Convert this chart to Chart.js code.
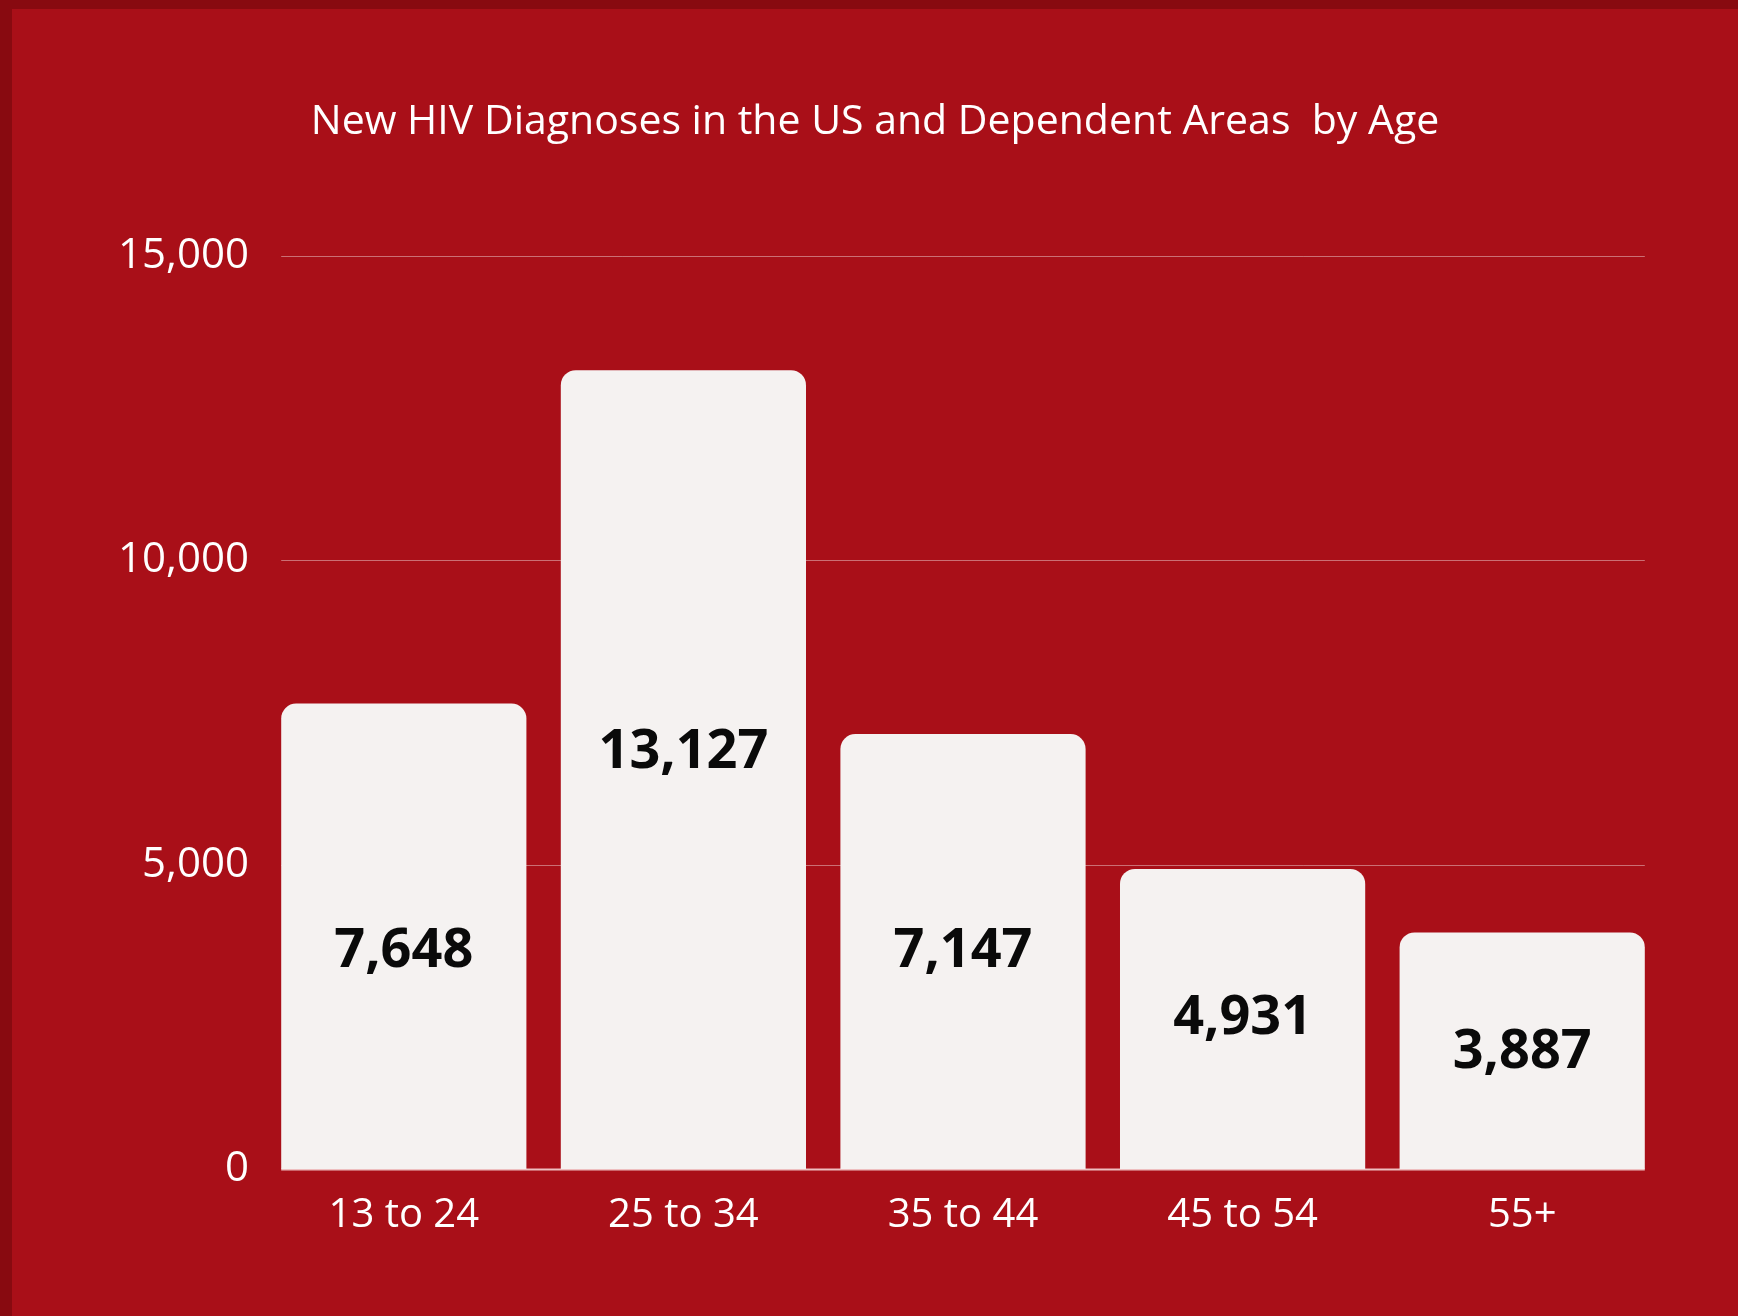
<!DOCTYPE html>
<html>
<head>
<meta charset="utf-8">
<script src="https://cdn.jsdelivr.net/npm/chart.js@4"></script>
<style>
  html, body { margin: 0; padding: 0; background: #a90f18; }
  #frame {
    position: absolute; left: 0; top: 0;
    width: 1726px; height: 1307px;
    border-top: 9px solid #880a10;
    border-left: 12px solid #880a10;
  }
  #graphic { position: absolute; left: 0; top: 0; }
</style>
</head>
<body>
<div id="frame"></div>
<canvas id="graphic" width="1738" height="1316"></canvas>
<script>
const ctx = document.getElementById('graphic');

const categorias = ['13 to 24', '25 to 34', '35 to 44', '45 to 54', '55+'];
const diagnosticos = [7648, 13127, 7147, 4931, 3887];
const ticksY = [0, 5000, 10000, 15000];

const fonte = '"Open Sans", "Liberation Sans", sans-serif';
const fmt = v => v.toLocaleString('en-US');

// grid lines only across the bars, like the original
const linhasGrade = {
    id: 'linhasGrade',
    beforeDatasetsDraw(chart) {
        const meta = chart.getDatasetMeta(0);
        const primeiro = meta.data[0];
        const ultimo = meta.data[meta.data.length - 1];
        const x0 = primeiro.x - primeiro.width / 2;
        const x1 = ultimo.x + ultimo.width / 2;
        const c = chart.ctx;
        c.save();
        ticksY.forEach(v => {
            const y = Math.round(chart.scales.y.getPixelForValue(v)) + 0.5;
            c.strokeStyle = v === 0 ? 'rgba(255,235,235,0.8)' : 'rgba(255,255,255,0.4)';
            c.lineWidth = v === 0 ? 2 : 1;
            c.beginPath();
            c.moveTo(x0, y);
            c.lineTo(x1, y);
            c.stroke();
        });
        c.restore();
    }
};

// the labels in the original are not exactly centred in two of the bars
const ajusteRotulo = [15, -17, 0, 0, 2];

const rotulos = {
    id: 'rotulos',
    afterDatasetsDraw(chart) {
        const meta = chart.getDatasetMeta(0);
        const c = chart.ctx;
        c.save();
        c.font = 'bold 54px ' + fonte;
        c.fillStyle = '#0a0a0a';
        c.textAlign = 'center';
        c.textBaseline = 'middle';
        meta.data.forEach((barra, i) => {
            c.fillText(fmt(diagnosticos[i]), barra.x, (barra.y + barra.base) / 2 + ajusteRotulo[i]);
        });
        c.restore();
    }
};

let grafico = new Chart(ctx, {
    type: 'bar',
    data: {
        labels: categorias,
        datasets: [{
            data: diagnosticos,
            backgroundColor: '#f5f2f1',
            borderWidth: 0,
            borderRadius: 15,
            borderSkipped: 'start',
            barPercentage: 1,
            categoryPercentage: 0.877
        }]
    },
    options: {
        responsive: false,
        animation: false,
        devicePixelRatio: 1,
        layout: { padding: { left: 88, right: 76, top: 0, bottom: 0 } },
        plugins: {
            legend: { display: false },
            tooltip: { enabled: false },
            title: {
                display: true,
                text: 'New HIV Diagnoses in the US and Dependent Areas  by Age',
                color: '#ffffff',
                font: { family: fonte, size: 41, weight: 'normal', lineHeight: 1.2 },
                padding: { top: 98, bottom: 109 }
            }
        },
        scales: {
            x: {
                grid: { display: false, drawTicks: false },
                border: { display: false },
                ticks: {
                    color: '#ffffff',
                    padding: 23,
                    font: { family: fonte, size: 40 }
                },
                afterFit(scale) { scale.height = 147; }
            },
            y: {
                min: 0,
                max: 15000,
                grid: { display: false, drawTicks: false },
                border: { display: false },
                afterBuildTicks(scale) {
                    scale.ticks = ticksY.map(v => ({ value: v }));
                },
                ticks: {
                    color: '#ffffff',
                    padding: 15,
                    font: { family: fonte, size: 42 },
                    callback: v => fmt(v)
                },
                afterFit(scale) { scale.width = 176; }
            }
        }
    },
    plugins: [linhasGrade, rotulos]
});
</script>
</body>
</html>
